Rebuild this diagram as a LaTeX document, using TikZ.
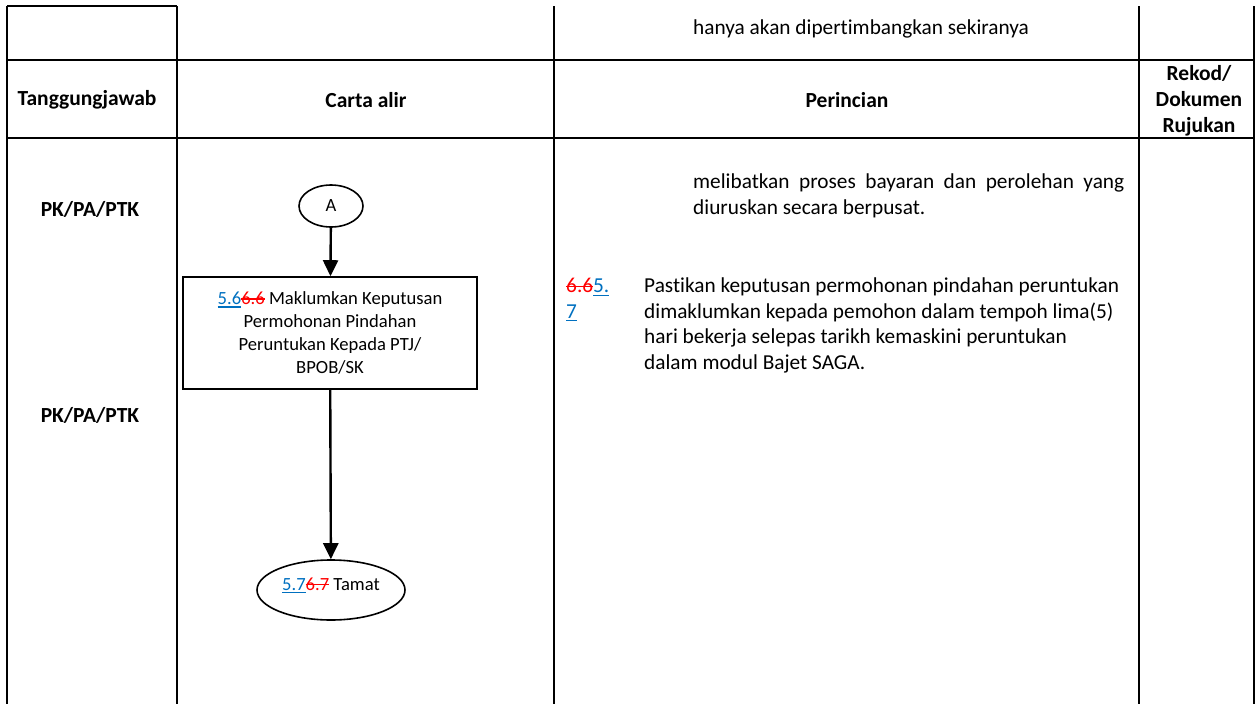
\documentclass[tikz,border=0pt]{standalone}
\usepackage{fontspec}
\setmainfont[Ligatures=NoCommon]{Carlito}
\usetikzlibrary{arrows.meta,shapes.geometric}
\definecolor{linkblue}{RGB}{0,112,192}
\definecolor{delred}{RGB}{255,0,0}
% inserted numbers: blue, underlined; deleted numbers: red, struck through
\newcommand\insnum[1]{\textcolor{linkblue}{\setbox0\hbox{#1}\rlap{\vrule height -0.09em depth 0.16em width \wd0}\box0}}
\newcommand\delnum[1]{\textcolor{delred}{\setbox0\hbox{#1}\rlap{\vrule height 0.33em depth -0.26em width \wd0}\box0}}
\tikzset{
  grid/.style={line width=2pt},
  headtxt/.style={font=\fontsize{21.5}{26}\selectfont\bfseries, inner sep=0, align=center},
  bodytxt/.style={font=\fontsize{21.3}{25.5}\selectfont, inner sep=0, align=left},
  flowbox/.style={draw, line width=1.6pt, minimum width=294pt, minimum height=112pt, inner sep=0,
                  align=center, font=\fontsize{18.6}{23}\selectfont},
  terminal/.style={draw, ellipse, line width=1.6pt, inner sep=0},
  flowarrow/.style={line width=2.4pt, -{Triangle[length=16pt,width=15pt]}},
}
\begin{document}
\begin{tikzpicture}[x=1pt,y=-1pt]
\useasboundingbox (0,0) rectangle (1256,704);

% table rules
\draw[grid] (7,6) -- (177,6);
\foreach \cx in {7,177,554,1139,1254} \draw[grid] (\cx,6) -- (\cx,704);
\draw[grid] (6,60) -- (1255,60);
\draw[grid] (6,138) -- (1255,138);

% header row
\node[headtxt] (hTang) at (87,100) {Tanggungjawab};
\node[headtxt] (hCarta) at (366,100) {Carta alir};
\node[headtxt] (hPer) at (847,100) {Perincian};
\node[headtxt] (hRek) at (1199,101) {Rekod/\\Dokumen\\Rujukan};

% text carried over from the previous page
\node[bodytxt, anchor=west] (prev) at (693,29) {hanya akan dipertimbangkan sekiranya};

% responsibilities
\node[headtxt] (r1) at (90,209) {PK/PA/PTK};
\node[headtxt] (r2) at (90,415) {PK/PA/PTK};

% flow chart
\node[terminal, minimum width=64pt, minimum height=42pt, font=\fontsize{18.6}{23}\selectfont] (A) at (331,206) {A};
\node[flowbox] (step) at (330,333) {\insnum{5.6}\delnum{6.6} Maklumkan Keputusan\\Permohonan Pindahan\\Peruntukan Kepada PTJ/\\BPOB/SK};
\node[terminal, minimum width=148pt, minimum height=60pt, font=\fontsize{18.6}{23}\selectfont] (end) at (331,590) {\smash{\insnum{5.7}\delnum{6.7} Tamat}};
\draw[flowarrow] (A) -- (step);
\draw[flowarrow] (step) -- (end);

% details
\node[bodytxt, anchor=north west] (d0) at (693,174) {\makebox[431pt][s]{melibatkan proses bayaran dan perolehan yang}\\diuruskan secara berpusat.};
\node[bodytxt, anchor=north west] (n1) at (566,278) {\delnum{6.6}\insnum{5.}\\\insnum{7}};
\node[bodytxt, anchor=north west] (d1) at (644,278) {Pastikan keputusan permohonan pindahan peruntukan\\dimaklumkan kepada pemohon dalam tempoh lima(5)\\hari bekerja selepas tarikh kemaskini peruntukan\\dalam modul Bajet SAGA.};
\end{tikzpicture}
\end{document}
